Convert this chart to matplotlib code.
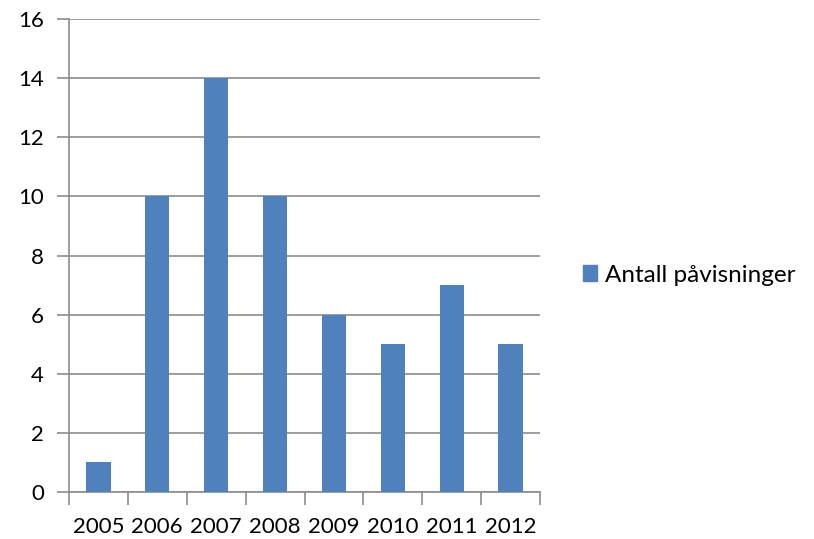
import matplotlib.pyplot as plt
from matplotlib.patches import Patch

aar = ['2005', '2006', '2007', '2008', '2009', '2010', '2011', '2012']
antall = [1, 10, 14, 10, 6, 5, 7, 5]
serie_navn = 'Antall påvisninger'

plt.rcParams['font.family'] = ['Lato', 'DejaVu Sans']

fig = plt.figure(figsize=(8.14, 5.39), dpi=100)
ax = fig.add_axes([69 / 814, 1 - 492 / 539, 471 / 814, 473 / 539])

x = range(len(aar))
ax.bar(x, antall, width=0.41, color='#4F81BD', zorder=3)

ax.set_xlim(-0.5, len(aar) - 0.5)
ax.set_ylim(0, 16)
ax.set_yticks(range(0, 17, 2))
ax.set_xticks(x)
ax.set_xticklabels(aar)
ax.set_xticks([i - 0.5 for i in range(len(aar) + 1)], minor=True)

grid_farge = '#8C8C8C'
ax.grid(axis='y', color=grid_farge, linewidth=1.2, zorder=0)
for side in ['top', 'right']:
    ax.spines[side].set_visible(False)
for side in ['left', 'bottom']:
    ax.spines[side].set_color(grid_farge)
    ax.spines[side].set_linewidth(1.2)

ax.tick_params(axis='x', which='major', length=0, pad=18, labelsize=16)
ax.tick_params(axis='x', which='minor', length=9, width=1.2, color=grid_farge)
ax.tick_params(axis='y', length=9, width=1.2, color=grid_farge, pad=9, labelsize=16)

fig.legend(handles=[Patch(color='#4F81BD', label=serie_navn)],
           loc='center left', bbox_to_anchor=(561 / 814, 1 - 275 / 539),
           frameon=False, fontsize=17.5, handlelength=0.6, handleheight=0.6,
           handletextpad=0.3)

fig.savefig('out.png', dpi=100)
